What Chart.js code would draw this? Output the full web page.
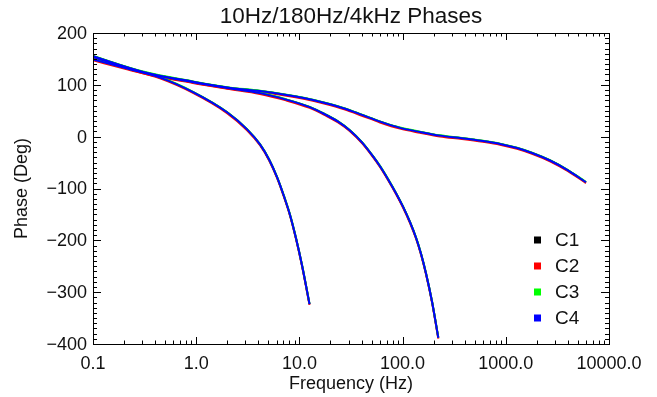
<!DOCTYPE html>
<html>
<head>
<meta charset="utf-8">
<script src="https://cdn.jsdelivr.net/npm/chart.js@4.4.1/dist/chart.umd.min.js"></script>
<style>
  body { margin: 0; background: #fff; }
</style>
</head>
<body>
<canvas id="chart" width="657" height="397"></canvas>
<script>
// 10 Hz filter
const freqA = [0.1, 0.209, 0.446, 0.931, 1.99, 3.11, 4.15, 5.08, 6.07, 7.09, 8.11, 9.27, 10.6, 12.53];
const phaseA = [149, 132, 114, 86, 47, 14, -15, -44, -78, -115, -151, -196, -248, -323];

// 180 Hz filter
const freqB = [0.1, 0.305, 0.93, 1.99, 4.15, 7.28, 12.6, 17.7, 23.7, 30.9, 40.4, 51.7, 60.4, 72.2, 86.3, 100.9, 118, 134.9, 150.8, 168.6, 192.7, 221.8];
const phaseB = [154, 124, 105, 94, 84, 72, 57, 43, 29, 12, -11, -38, -57, -82, -109, -135, -165, -195, -226, -264, -318, -388];

// 4 kHz filter
const freqC = [0.1, 0.305, 0.93, 1.99, 4.15, 7.25, 11.3, 17.7, 27.7, 40.4, 60.4, 94.4, 147.5, 230, 376, 601, 879, 1284, 1795, 2681, 4005, 5984];
const phaseC = [155, 125, 106, 95, 88, 81, 74, 65, 54, 42, 29, 17, 9, 2, -3, -8.5, -14, -22, -31.5, -46, -65, -88];

const channels = ["C1", "C2", "C3", "C4"];
const channelColors = ["#000000", "#ff0000", "#00ff00", "#0000ff"];
const channelShift = [0, 0.8, -0.3, 0]; // px nudge so the stacked traces peek out

const xTicks = [0.1, 1, 10, 100, 1000, 10000];
const xTickLabels = ["0.1", "1.0", "10.0", "100.0", "1000.0", "10000.0"];
const yTicks = [200, 100, 0, -100, -200, -300, -400];
const yTickLabels = ["200", "100", "0", "\u2212100", "\u2212200", "\u2212300", "\u2212400"];

const curves = [
  [freqA, phaseA],
  [freqB, phaseB],
  [freqC, phaseC],
];

const datasets = [];
channels.forEach((name, ci) => {
  curves.forEach(([fx, py]) => {
    datasets.push({
      label: name,
      data: fx.map((f, i) => ({ x: f, y: py[i] })),
      borderColor: channelColors[ci],
      borderWidth: 2,
      pointRadius: 0,
      cubicInterpolationMode: "monotone",
      order: channels.length - ci,
      channel: ci,
    });
  });
});

const FONT = '"Liberation Sans", Arial, sans-serif';

const frame = {
  id: "frame",
  beforeDatasetDraw(chart, args) {
    const ds = chart.data.datasets[args.index];
    chart.ctx.save();
    chart.ctx.translate(0, channelShift[ds.channel]);
  },
  afterDatasetDraw(chart) {
    chart.ctx.restore();
  },
  afterDraw(chart) {
    const { ctx, chartArea: a, scales } = chart;
    const xs = scales.x, ys = scales.y;
    ctx.save();
    ctx.strokeStyle = "#000";
    ctx.lineWidth = 1;
    ctx.strokeRect(a.left + 0.5, a.top + 0.5, a.right - a.left, a.bottom - a.top);

    ctx.beginPath();
    // x ticks, bottom and top
    for (let d = 0.1; d <= 10000; d *= 10) {
      for (let m = 1; m < 10; m++) {
        const v = d * m;
        if (v > 10000 * 1.0001) break;
        const px = Math.round(xs.getPixelForValue(v)) + 0.5;
        const len = m === 1 ? 7 : 3.5;
        ctx.moveTo(px, a.bottom);
        ctx.lineTo(px, a.bottom - len);
        ctx.moveTo(px, a.top);
        ctx.lineTo(px, a.top + len);
      }
    }
    // y ticks, left and right
    for (let v = -400; v <= 200; v += 10) {
      const py = Math.round(ys.getPixelForValue(v)) + 0.5;
      const len = v % 100 === 0 ? 8 : 4;
      ctx.moveTo(a.left, py);
      ctx.lineTo(a.left + len, py);
      ctx.moveTo(a.right, py);
      ctx.lineTo(a.right - len, py);
    }
    ctx.stroke();

    ctx.fillStyle = "#111";
    ctx.font = "18px " + FONT;
    ctx.textAlign = "center";
    ctx.textBaseline = "middle";
    xTicks.forEach((v, i) => {
      ctx.fillText(xTickLabels[i], xs.getPixelForValue(v), a.bottom + 20);
    });
    ctx.textAlign = "right";
    yTicks.forEach((v, i) => {
      ctx.fillText(yTickLabels[i], a.left - 6, ys.getPixelForValue(v) + 1);
    });

    ctx.textAlign = "center";
    ctx.fillText("Frequency (Hz)", (a.left + a.right) / 2, a.bottom + 40);
    ctx.save();
    ctx.translate(22, (a.top + a.bottom) / 2);
    ctx.rotate(-Math.PI / 2);
    ctx.fillText("Phase (Deg)", 0, 0);
    ctx.restore();

    ctx.font = "22.5px " + FONT;
    ctx.fillText("10Hz/180Hz/4kHz Phases", (a.left + a.right) / 2, a.top - 16);

    // legend
    ctx.font = "19px " + FONT;
    ctx.textAlign = "left";
    channels.forEach((name, i) => {
      const y = a.top + 207 + i * 26;
      ctx.fillStyle = channelColors[i];
      ctx.fillRect(a.left + 441, y - 3.5, 7, 7);
      ctx.fillStyle = "#111";
      ctx.fillText(name, a.left + 462, y + 1);
    });
    ctx.restore();
  },
};

new Chart(document.getElementById("chart"), {
  type: "line",
  data: { datasets },
  options: {
    responsive: false,
    animation: false,
    layout: { padding: { left: 93, right: 48, top: 33, bottom: 53 } },
    plugins: {
      legend: { display: false },
      tooltip: { enabled: false },
    },
    scales: {
      x: { type: "logarithmic", min: 0.1, max: 10000, display: false },
      y: { type: "linear", min: -400, max: 200, display: false },
    },
  },
  plugins: [frame],
});
</script>
</body>
</html>
